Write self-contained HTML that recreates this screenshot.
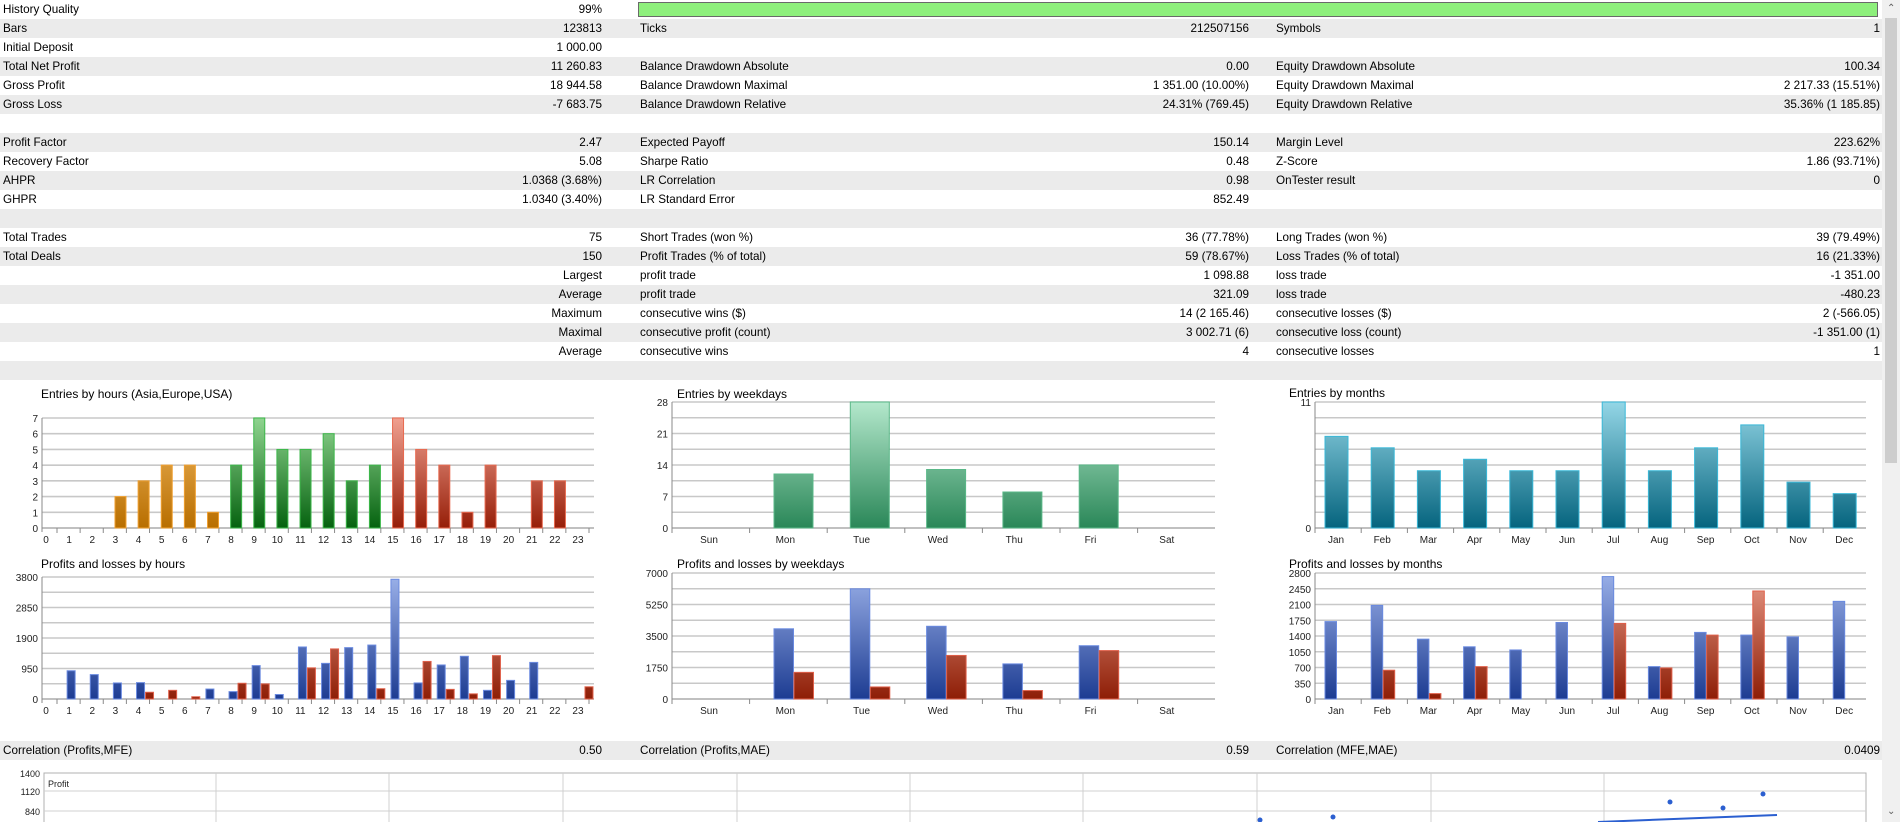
<!DOCTYPE html>
<html><head><meta charset="utf-8">
<style>
html,body{margin:0;padding:0;background:#fff;}
body{width:1900px;height:822px;overflow:hidden;position:relative;font-family:"Liberation Sans",sans-serif;font-size:11.7px;color:#000;}
.row{position:absolute;left:0;width:1882px;height:19px;}
.g{background:#ebebeb;}
.t{position:absolute;top:3px;white-space:nowrap;}
.r{text-align:right;}
#sb{position:absolute;left:1882px;top:0;width:18px;height:822px;background:#f0f0f0;}
#thumb{position:absolute;left:3px;top:18px;width:12px;height:445px;background:#cdcdcd;}
svg{position:absolute;left:0;top:0;}
</style></head><body>
<div id="rows"></div>
<div style="position:absolute;left:638px;top:2px;width:1238px;height:13px;background:#8ef07c;border:1px solid #6a6a6a;"></div>
<div id="sb"><div id="thumb"></div>
<div style="position:absolute;left:5px;top:3px;font-size:10px;color:#606060;">&#8963;</div>
<div style="position:absolute;left:5px;top:806px;font-size:10px;color:#606060;">&#8964;</div></div>
<svg id="sv" width="1882" height="822" xmlns="http://www.w3.org/2000/svg" font-family="Liberation Sans, sans-serif"></svg>
<script>
var R=[
["History Quality","99%","","","",""],
["Bars","123813","Ticks","212507156","Symbols","1"],
["Initial Deposit","1 000.00","","","",""],
["Total Net Profit","11 260.83","Balance Drawdown Absolute","0.00","Equity Drawdown Absolute","100.34"],
["Gross Profit","18 944.58","Balance Drawdown Maximal","1 351.00 (10.00%)","Equity Drawdown Maximal","2 217.33 (15.51%)"],
["Gross Loss","-7 683.75","Balance Drawdown Relative","24.31% (769.45)","Equity Drawdown Relative","35.36% (1 185.85)"],
["","","","","",""],
["Profit Factor","2.47","Expected Payoff","150.14","Margin Level","223.62%"],
["Recovery Factor","5.08","Sharpe Ratio","0.48","Z-Score","1.86 (93.71%)"],
["AHPR","1.0368 (3.68%)","LR Correlation","0.98","OnTester result","0"],
["GHPR","1.0340 (3.40%)","LR Standard Error","852.49","",""],
["","","","","",""],
["Total Trades","75","Short Trades (won %)","36 (77.78%)","Long Trades (won %)","39 (79.49%)"],
["Total Deals","150","Profit Trades (% of total)","59 (78.67%)","Loss Trades (% of total)","16 (21.33%)"],
["","Largest","profit trade","1 098.88","loss trade","-1 351.00"],
["","Average","profit trade","321.09","loss trade","-480.23"],
["","Maximum","consecutive wins ($)","14 (2 165.46)","consecutive losses ($)","2 (-566.05)"],
["","Maximal","consecutive profit (count)","3 002.71 (6)","consecutive loss (count)","-1 351.00 (1)"],
["","Average","consecutive wins","4","consecutive losses","1"],
["","","","","",""]];
var h="";
function row(y,c,g){h+='<div class="row'+(g?' g':'')+'" style="top:'+y+'px">';
 if(c[0])h+='<div class="t" style="left:3px">'+c[0]+'</div>';
 if(c[1])h+='<div class="t r" style="right:'+(1882-602)+'px">'+c[1]+'</div>';
 if(c[2])h+='<div class="t" style="left:640px">'+c[2]+'</div>';
 if(c[3])h+='<div class="t r" style="right:'+(1882-1249)+'px">'+c[3]+'</div>';
 if(c[4])h+='<div class="t" style="left:1276px">'+c[4]+'</div>';
 if(c[5])h+='<div class="t r" style="right:'+(1882-1880)+'px">'+c[5]+'</div>';
 h+='</div>';}
R.forEach(function(c,i){row(i*19,c,i%2==1);});
row(741,["Correlation (Profits,MFE)","0.50","Correlation (Profits,MAE)","0.59","Correlation (MFE,MAE)","0.0409"],true);
document.getElementById('rows').innerHTML=h;

var s='<defs>';
function grad(id,y0,y1,top,bot){s+='<linearGradient id="'+id+'" gradientUnits="userSpaceOnUse" x1="0" y1="'+y0+'" x2="0" y2="'+y1+'"><stop offset="0" stop-color="'+top+'"/><stop offset="1" stop-color="'+bot+'"/></linearGradient>';}
grad('or1',418,528,'#f0b860','#b86e00');grad('gr1',418,528,'#8fd48f','#05620f');grad('rd1',418,528,'#f0a090','#961e08');
grad('bl2',577,699,'#9ab0e8','#1d3c92');grad('rd2',577,699,'#e89a88','#8e1e06');
grad('gw',402,528,'#b4e8cc','#2a8758');
grad('bl4',573,699,'#9ab0e8','#1d3c92');grad('rd4',573,699,'#e89a88','#8e1e06');
grad('tm',402,528,'#94d6e6','#05647e');
s+='</defs>';
function T(x,y,t,sz,anc,col){s+='<text x="'+x+'" y="'+y+'" font-size="'+sz+'" text-anchor="'+(anc||'start')+'" fill="'+(col||'#000')+'">'+t+'</text>';}
function L(x1,y1,x2,y2,c,w){s+='<line x1="'+x1+'" y1="'+y1+'" x2="'+x2+'" y2="'+y2+'" stroke="'+c+'" stroke-width="'+(w||1)+'"/>';}
function B(x,y,w,hh,f,st){if(hh<=0)return;s+='<rect x="'+x+'" y="'+y+'" width="'+w+'" height="'+hh+'" fill="url(#'+f+')" stroke="'+st+'" stroke-width="1"/>';}
function axes(ax,x1,top,bot,labels,ndiv,cats,catX,nTicks,tickX){
 for(var k=0;k<=ndiv;k++){var y=bot-(bot-top)*k/ndiv;L(ax,y,x1,y,k==0?'#9a9a9a':'#c8c8c8',k==0?1.2:1.6);}
 L(ax,top,ax,bot+4,'#8a8a8a',1);
 labels.forEach(function(l){T(ax-4,l[1]+4,l[0],10,'end','#222');});
 for(var i=0;i<nTicks;i++)L(tickX(i),bot,tickX(i),bot+5,'#8a8a8a',1);
 cats.forEach(function(c,i){T(catX(i),bot+15,c,10,'middle','#222');});
}
T(41,398,'Entries by hours (Asia,Europe,USA)',12);
var hrs=[];for(var i=0;i<24;i++)hrs.push(''+i);
var ent=[0,0,0,2,3,4,4,1,4,7,5,5,6,3,4,7,5,4,1,4,0,3,3,0];
axes(42,594,418,528,[[7,418],[6,433.7],[5,449.4],[4,465.1],[3,480.9],[2,496.6],[1,512.3],[0,528]],7,hrs,function(i){return 46+23.13*i;},24,function(i){return 57+23.13*i;});
ent.forEach(function(v,i){if(!v)return;var hh=v*110/7;var f=i<8?'or1':(i<15?'gr1':'rd1');var st=i<8?'#f0a030':(i<15?'#3cb84a':'#e86a50');B(45.6+23.13*i,528-hh,11,hh,f,st);});
T(41,568,'Profits and losses by hours',12);
axes(42,594,577,699,[['3800',577],['2850',607.5],['1900',638],['950',668.5],['0',699]],8,hrs,function(i){return 46+23.13*i;},24,function(i){return 57+23.13*i;});
var pb={1:880,2:760,3:500,4:510,7:310,8:230,9:1040,10:140,11:1620,12:1110,13:1600,14:1680,15:3730,16:500,17:1060,18:1330,19:270,20:580,21:1140};
var pr={4:210,5:270,6:70,8:490,9:470,11:970,12:1560,14:320,16:1170,17:300,18:160,19:1350,23:380};
for(var k in pb){var hh=pb[k]*122/3800;B(44+23.13*k,699-hh,8,hh,'bl2','#6a8ae0');}
for(var k in pr){var hh=pr[k]*122/3800;B(53+23.13*k,699-hh,8,hh,'rd2','#e0604a');}
var wd=['Sun','Mon','Tue','Wed','Thu','Fri','Sat'];
T(677,398,'Entries by weekdays',12);
axes(672,1215,402,528,[['28',402],['21',433.5],['14',465],['7',496.5],['0',528]],8,wd,function(i){return 709+76.3*i;},7,function(i){return 672+77.6*i;});
[0,12,28,13,8,14,0].forEach(function(v,i){var hh=v*126/28;B(774+76.3*(i-1),528-hh,39,hh,'gw','#5ab888');});
T(677,568,'Profits and losses by weekdays',12);
axes(672,1215,573,699,[['7000',573],['5250',604.5],['3500',636],['1750',667.5],['0',699]],8,wd,function(i){return 709+76.3*i;},7,function(i){return 672+77.6*i;});
[[0,0],[3900,1480],[6120,670],[4040,2420],[1950,470],[2960,2690],[0,0]].forEach(function(p,i){var x=774+76.3*(i-1);var hb=p[0]*126/7000,hr=p[1]*126/7000;B(x,699-hb,19.5,hb,'bl4','#6a8ae0');B(x+20,699-hr,19.5,hr,'rd4','#e0604a');});
var mo=['Jan','Feb','Mar','Apr','May','Jun','Jul','Aug','Sep','Oct','Nov','Dec'];
T(1289,397,'Entries by months',12);
axes(1315,1866,402,528,[['11',402],['0',528]],8,mo,function(i){return 1336+46.2*i;},12,function(i){return 1315+46.2*i;});
[8,7,5,6,5,5,11,5,7,9,4,3].forEach(function(v,i){var hh=v*126/11;B(1325+46.2*i,528-hh,23,hh,'tm','#3ab8d8');});
T(1289,568,'Profits and losses by months',12);
var ml=[];for(var k=0;k<=8;k++)ml.push([''+(2800-350*k),573+126*k/8]);
axes(1315,1866,573,699,ml,8,mo,function(i){return 1336+46.2*i;},12,function(i){return 1315+46.2*i;});
var mb=[1720,2080,1330,1160,1090,1700,2720,720,1480,1420,1380,2170],mr=[0,640,120,720,0,0,1680,690,1420,2400,0,0];
mo.forEach(function(m,i){var x=1325+46.2*i;var hb=mb[i]*126/2800,hr=mr[i]*126/2800;B(x,699-hb,11.5,hb,'bl4','#6a8ae0');B(x+12,699-hr,11.5,hr,'rd4','#e0604a');});
s+='<rect x="44" y="773" width="1822" height="60" fill="none" stroke="#b0b0b0"/>';
[216,389,563,737,910,1083,1257,1431,1604].forEach(function(x){L(x,773,x,822,'#d0d0d0',1);});
L(44,791,1866,791,'#d0d0d0',1);L(44,811,1866,811,'#d0d0d0',1);
T(40,777,'1400',9,'end','#222');T(40,795,'1120',9,'end','#222');T(40,815,'840',9,'end','#222');
T(48,787,'Profit',9,'start','#222');
[[1260,820],[1333,817],[1670,802],[1723,808],[1763,794]].forEach(function(p){s+='<circle cx="'+p[0]+'" cy="'+p[1]+'" r="2.5" fill="#2b5fd0"/>';});
L(1598,822,1777,815,'#2b5fd0',2);
document.getElementById('sv').innerHTML=s;
</script>
</body></html>
